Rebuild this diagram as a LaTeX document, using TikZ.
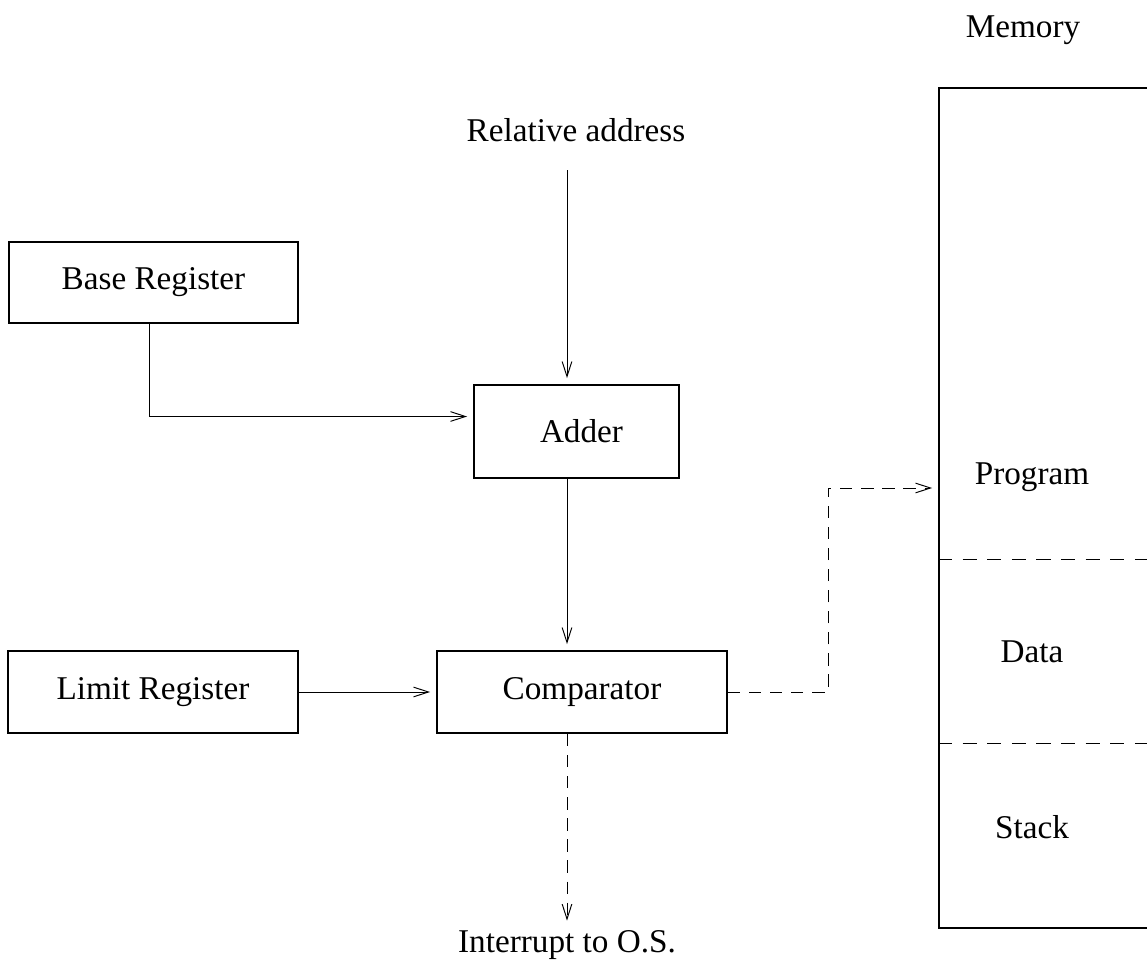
\documentclass[tikz,border=0pt]{standalone}
\usepackage{fontspec}
\setmainfont{Liberation Serif}
\usetikzlibrary{arrows.meta}
\tikzset{
  box/.style={draw, line width=1.1pt, minimum width=5.8cm, minimum height=1.64cm},
  lbl/.style={inner sep=2pt},
  arr/.style={line width=0.55pt, -{Straight Barb[length=8.5pt,width=5.5pt]}, shorten >=0.12cm},
  darr/.style={arr, dash pattern=on 7pt off 5pt},
}
\begin{document}
\begin{tikzpicture}[x=0.02cm, y=-0.02cm, every node/.style={font=\fontsize{18.9}{22}\selectfont}]
    \useasboundingbox (0, 0) rectangle (1147, 970) ;
    % memory
    \node[lbl] (memlbl) at (1023, 30) {Memory} ;
    \node[draw, line width=1.1pt, minimum width=4.62cm, minimum height=16.8cm] (mem) at (1054.5, 508) {} ;
    \draw[line width=0.55pt, dash pattern=on 8pt off 6pt] (mem.west |- 0, 559) -- (mem.east |- 0, 559) ;
    \draw[line width=0.55pt, dash pattern=on 8pt off 6pt] (mem.west |- 0, 743) -- (mem.east |- 0, 743) ;
    \node[lbl] (prog) at (1032, 477) {Program} ;
    \node[lbl] (data) at (1032, 652) {Data} ;
    \node[lbl] (stack) at (1032, 827) {Stack} ;
    % registers and units
    \node[box, minimum width=5.78cm, minimum height=1.62cm] (base) at (153.5, 282.5) {Base Register} ;
    \node[box] (limit) at (153, 692) {Limit Register} ;
    \node[box, minimum width=4.1cm, minimum height=1.86cm] (adder) at (576.5, 431.5) {\hspace{0.2cm}Adder} ;
    \node[box] (comp) at (582, 692) {Comparator\hspace{0.2cm}} ;
    \node[lbl] (rel) at (576, 130) {Relative address} ;
    \node[lbl] (intr) at (567, 945) {Interrupt to O.S.} ;
    \coordinate (relout) at (567, 170) ;
    \coordinate (bend) at (828, 488) ;
    % connectors
    \draw[arr] (relout) -- (relout |- adder.north) ;
    \draw[arr] (base.south -| 149, 0) |- ([yshift=0.3cm]adder.west) ;
    \draw[arr] (adder.south -| relout) -- (comp.north -| relout) ;
    \draw[arr] (limit.east) -- (comp.west) ;
    \draw[darr] (comp.east) -| (bend) -- (bend -| mem.west) ;
    \draw[darr] (comp.south -| relout) -- (intr.north -| relout) ;
\end{tikzpicture}
\end{document}
